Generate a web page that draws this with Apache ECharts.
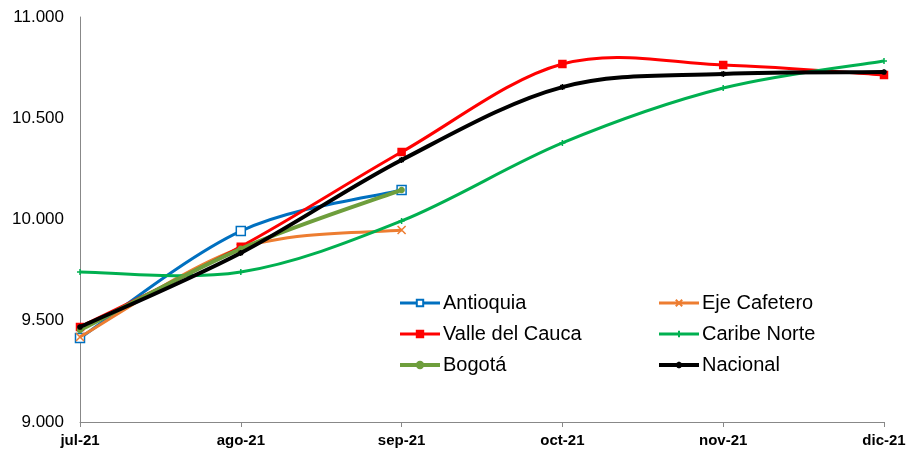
<!DOCTYPE html>
<html>
<head>
<meta charset="utf-8">
<script src="https://cdn.jsdelivr.net/npm/echarts@6/dist/echarts.min.js"></script>
<style>
  html, body { margin: 0; padding: 0; background: #fff; }
  #main { width: 916px; height: 449px; }
</style>
</head>
<body>
<div id="main"></div>
<script>
// meses
const meses = ['jul-21', 'ago-21', 'sep-21', 'oct-21', 'nov-21', 'dic-21'];
// valores por región
const antioquia = [9415, 9943, 10146, null, null, null];
const ejeCafetero = [9420, 9859, 9948, null, null, null];
const valleCauca = [9469, 9866, 10333, 10768, 10763, 10714];
const caribeNorte = [9741, 9741, 9993, 10378, 10649, 10783];
const bogota = [9454, 9855, 10146, null, null, null];
const nacional = [9469, 9835, 10294, 10654, 10719, 10728];

// etiqueta con punto de miles: 10500 -> 10.500
const fmtY = v => {
  const s = Math.round(v).toString();
  return s.slice(0, s.length - 3) + '.' + s.slice(-3);
};

const cross = 'path://M0,0L10,10M10,0L0,10';
const plus = 'path://M5,0L5,10M0,5L10,5';
const star = 'path://M5,0L5,10M0,5L10,5M1.5,1.5L8.5,8.5M8.5,1.5L1.5,8.5';

const regiones = [
  { name: 'Antioquia', data: antioquia, color: '#0070C0', width: 3, symbol: 'rect', size: 9, fill: '#fff' },
  { name: 'Eje Cafetero', data: ejeCafetero, color: '#ED7D31', width: 3, symbol: cross, size: 8 },
  { name: 'Valle del Cauca', data: valleCauca, color: '#FF0000', width: 3, symbol: 'rect', size: 7 },
  { name: 'Caribe Norte', data: caribeNorte, color: '#00B050', width: 3, symbol: plus, size: 6 },
  { name: 'Bogotá', data: bogota, color: '#6E9E3C', width: 4, symbol: 'circle', size: 5 },
  { name: 'Nacional', data: nacional, color: '#000000', width: 4, symbol: star, size: 6 }
];

// curva suavizada tipo Excel (Catmull-Rom) dibujada con las escalas del gráfico
function curva(r, z) {
  return {
    type: 'custom',
    coordinateSystem: 'cartesian2d',
    data: [[0, r.data[0]]],
    silent: true,
    z: z,
    renderItem: function (params, api) {
      const pts = [];
      r.data.forEach((v, i) => { if (v != null) pts.push(api.coord([i, v])); });
      let d = 'M' + pts[0][0] + ',' + pts[0][1];
      for (let i = 0; i < pts.length - 1; i++) {
        const p0 = pts[i - 1] || pts[i], p1 = pts[i], p2 = pts[i + 1], p3 = pts[i + 2] || pts[i + 1];
        const c1x = p1[0] + (p2[0] - p0[0]) / 6, c1y = p1[1] + (p2[1] - p0[1]) / 6;
        const c2x = p2[0] - (p3[0] - p1[0]) / 6, c2y = p2[1] - (p3[1] - p1[1]) / 6;
        d += 'C' + c1x + ',' + c1y + ',' + c2x + ',' + c2y + ',' + p2[0] + ',' + p2[1];
      }
      return {
        type: 'path',
        shape: { pathData: d },
        style: { fill: 'none', stroke: r.color, lineWidth: r.width, lineJoin: 'round' }
      };
    }
  };
}

// marcadores (la línea la pinta la curva)
function marcas(r, z) {
  return {
    name: r.name,
    type: 'line',
    data: r.data,
    symbol: r.symbol,
    symbolSize: r.size,
    showAllSymbol: true,
    z: z,
    lineStyle: { color: r.color, width: r.width, opacity: 0 },
    itemStyle: { color: r.fill || r.color, borderColor: r.color, borderWidth: 1.5 },
    emphasis: { disabled: true }
  };
}

const series = [];
regiones.forEach((r, i) => {
  series.push(curva(r, 2 + i * 2));
  series.push(marcas(r, 3 + i * 2));
});

const itemLeyenda = r => ({ name: r.name, lineStyle: { opacity: 1, width: r.width, color: r.color } });

const legendBase = {
  orient: 'vertical', top: 293, itemGap: 11, padding: 0,
  itemWidth: 40, itemHeight: 8,
  textStyle: { fontSize: 20, color: '#000', padding: [0, 0, 0, -2] }
};

const chart = echarts.init(document.getElementById('main'));
chart.setOption({
  animation: false,
  textStyle: { fontFamily: 'Liberation Sans, Arial, sans-serif' },
  grid: { left: 80, right: 32, top: 17, bottom: 27 },
  legend: [
    Object.assign({ left: 398, data: [regiones[0], regiones[2], regiones[4]].map(itemLeyenda) }, legendBase),
    Object.assign({ left: 657, data: [regiones[1], regiones[3], regiones[5]].map(itemLeyenda) }, legendBase)
  ],
  xAxis: {
    type: 'category',
    data: meses,
    boundaryGap: false,
    axisLine: { lineStyle: { color: '#888', width: 1 } },
    axisTick: { show: true, length: 5, alignWithLabel: true, lineStyle: { color: '#888' } },
    axisLabel: { fontSize: 15, fontWeight: 'bold', color: '#000', margin: 11 }
  },
  yAxis: {
    type: 'value',
    min: 9000,
    max: 11000,
    interval: 500,
    splitLine: { show: false },
    axisLine: { show: true, lineStyle: { color: '#888', width: 1 } },
    axisTick: { show: false },
    axisLabel: { fontSize: 17, color: '#000', margin: 16, formatter: fmtY }
  },
  series: series
});
</script>
</body>
</html>
